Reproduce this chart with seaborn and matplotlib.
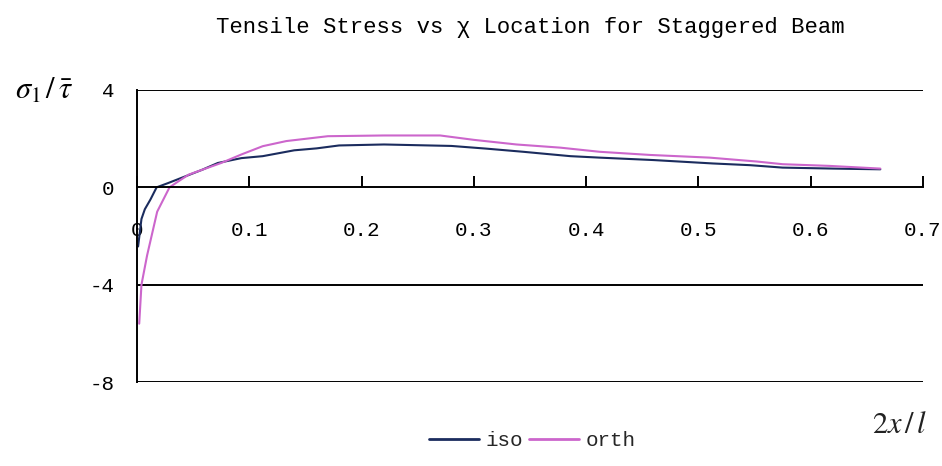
import matplotlib
matplotlib.use("Agg")
import matplotlib.pyplot as plt
import seaborn as sns
import pandas as pd
from matplotlib.lines import Line2D

iso_x = [0.001, 0.004, 0.007, 0.012, 0.0175, 0.028, 0.043, 0.058, 0.072, 0.093, 0.112,
         0.14, 0.16, 0.18, 0.22, 0.28, 0.311, 0.344, 0.386, 0.412, 0.46, 0.513, 0.546,
         0.575, 0.62, 0.662]
iso_y = [-2.43, -1.30, -0.9, -0.5, 0.0, 0.18, 0.45, 0.72, 1.0, 1.2, 1.28,
         1.52, 1.6, 1.72, 1.76, 1.70, 1.59, 1.46, 1.28, 1.22, 1.12, 0.98, 0.91,
         0.81, 0.77, 0.74]
orth_x = [0.002, 0.004, 0.009, 0.018, 0.029, 0.037, 0.046, 0.058, 0.075, 0.093, 0.112,
          0.133, 0.17, 0.22, 0.27, 0.3, 0.338, 0.377, 0.412, 0.457, 0.51, 0.552, 0.575,
          0.617, 0.662]
orth_y = [-5.6, -4.0, -2.8, -1.0, 0.0, 0.25, 0.52, 0.72, 1.0, 1.35, 1.69,
          1.9, 2.1, 2.13, 2.13, 1.95, 1.76, 1.63, 1.46, 1.33, 1.22, 1.06, 0.95,
          0.88, 0.77]
series_names = ["iso", "orth"]
x_ticks = [0, 0.1, 0.2, 0.3, 0.4, 0.5, 0.6, 0.7]
x_tick_labels = ["0", "0.1", "0.2", "0.3", "0.4", "0.5", "0.6", "0.7"]
y_ticks = [-8, -4, 0, 4]
y_tick_labels = ["-8", "-4", "0", "4"]
title = "Tensile Stress vs χ Location for Staggered Beam"

df = pd.concat([
    pd.DataFrame({"x": iso_x, "y": iso_y, "series": "iso"}),
    pd.DataFrame({"x": orth_x, "y": orth_y, "series": "orth"}),
], ignore_index=True)

sns.set_style("white")
plt.rcParams["font.family"] = ["Liberation Mono", "DejaVu Sans Mono", "DejaVu Sans"]
plt.rcParams["mathtext.fontset"] = "stix"

colors = {"iso": "#1b2c5e", "orth": "#cc66cc"}

fig = plt.figure(figsize=(9.42, 4.66), dpi=100)
ax = fig.add_axes([0.1454, 0.180, 0.8344, 0.627])

sns.lineplot(data=df, x="x", y="y", hue="series", palette=colors, sort=False,
             estimator=None, legend=False, linewidth=1.5, ax=ax)

ax.set_xlim(0, 0.7)
ax.set_ylim(-8, 4)

for yv in [4, -4, -8]:
    ax.axhline(yv, color="black", linewidth=1.4, zorder=0.5)

ax.spines["top"].set_visible(False)
ax.spines["right"].set_visible(False)
ax.spines["left"].set_color("black")
ax.spines["left"].set_linewidth(1.4)
ax.spines["bottom"].set_position(("data", 0))
ax.spines["bottom"].set_linewidth(1.4)
ax.spines["bottom"].set_color("black")
ax.xaxis.set_ticks_position("bottom")

ax.set_yticks(y_ticks)
ax.set_yticklabels(y_tick_labels, fontsize=15)
ax.set_xticks(x_ticks)
ax.set_xticklabels(x_tick_labels, fontsize=15)

ax.tick_params(axis="y", length=0, pad=16, labelcolor="black", labelsize=15)
ax.tick_params(axis="x", direction="in", length=8, width=1.4, color="black",
               pad=24, labelcolor="black", labelsize=15)

ax.set_xlabel("")
ax.set_ylabel("")

fig.text(0.563, 0.94, title, ha="center", va="center", fontsize=16, color="black")
fig.text(0.047, 0.805, r"$\sigma_1\,/\,\bar{\tau}$", ha="center", va="center",
         fontsize=22, color="black")
fig.text(0.955, 0.088, r"$2x\,/\,l$", ha="center", va="center", fontsize=22,
         color="#222222")

handles = [Line2D([0], [0], color=colors[s], linewidth=2) for s in series_names]
fig.legend(handles, series_names, loc="center", bbox_to_anchor=(0.565, 0.055),
           ncol=2, frameon=False, fontsize=15, handlelength=2.4,
           handletextpad=0.3, columnspacing=0.3)

fig.savefig("out.png", dpi=100, facecolor="white")
